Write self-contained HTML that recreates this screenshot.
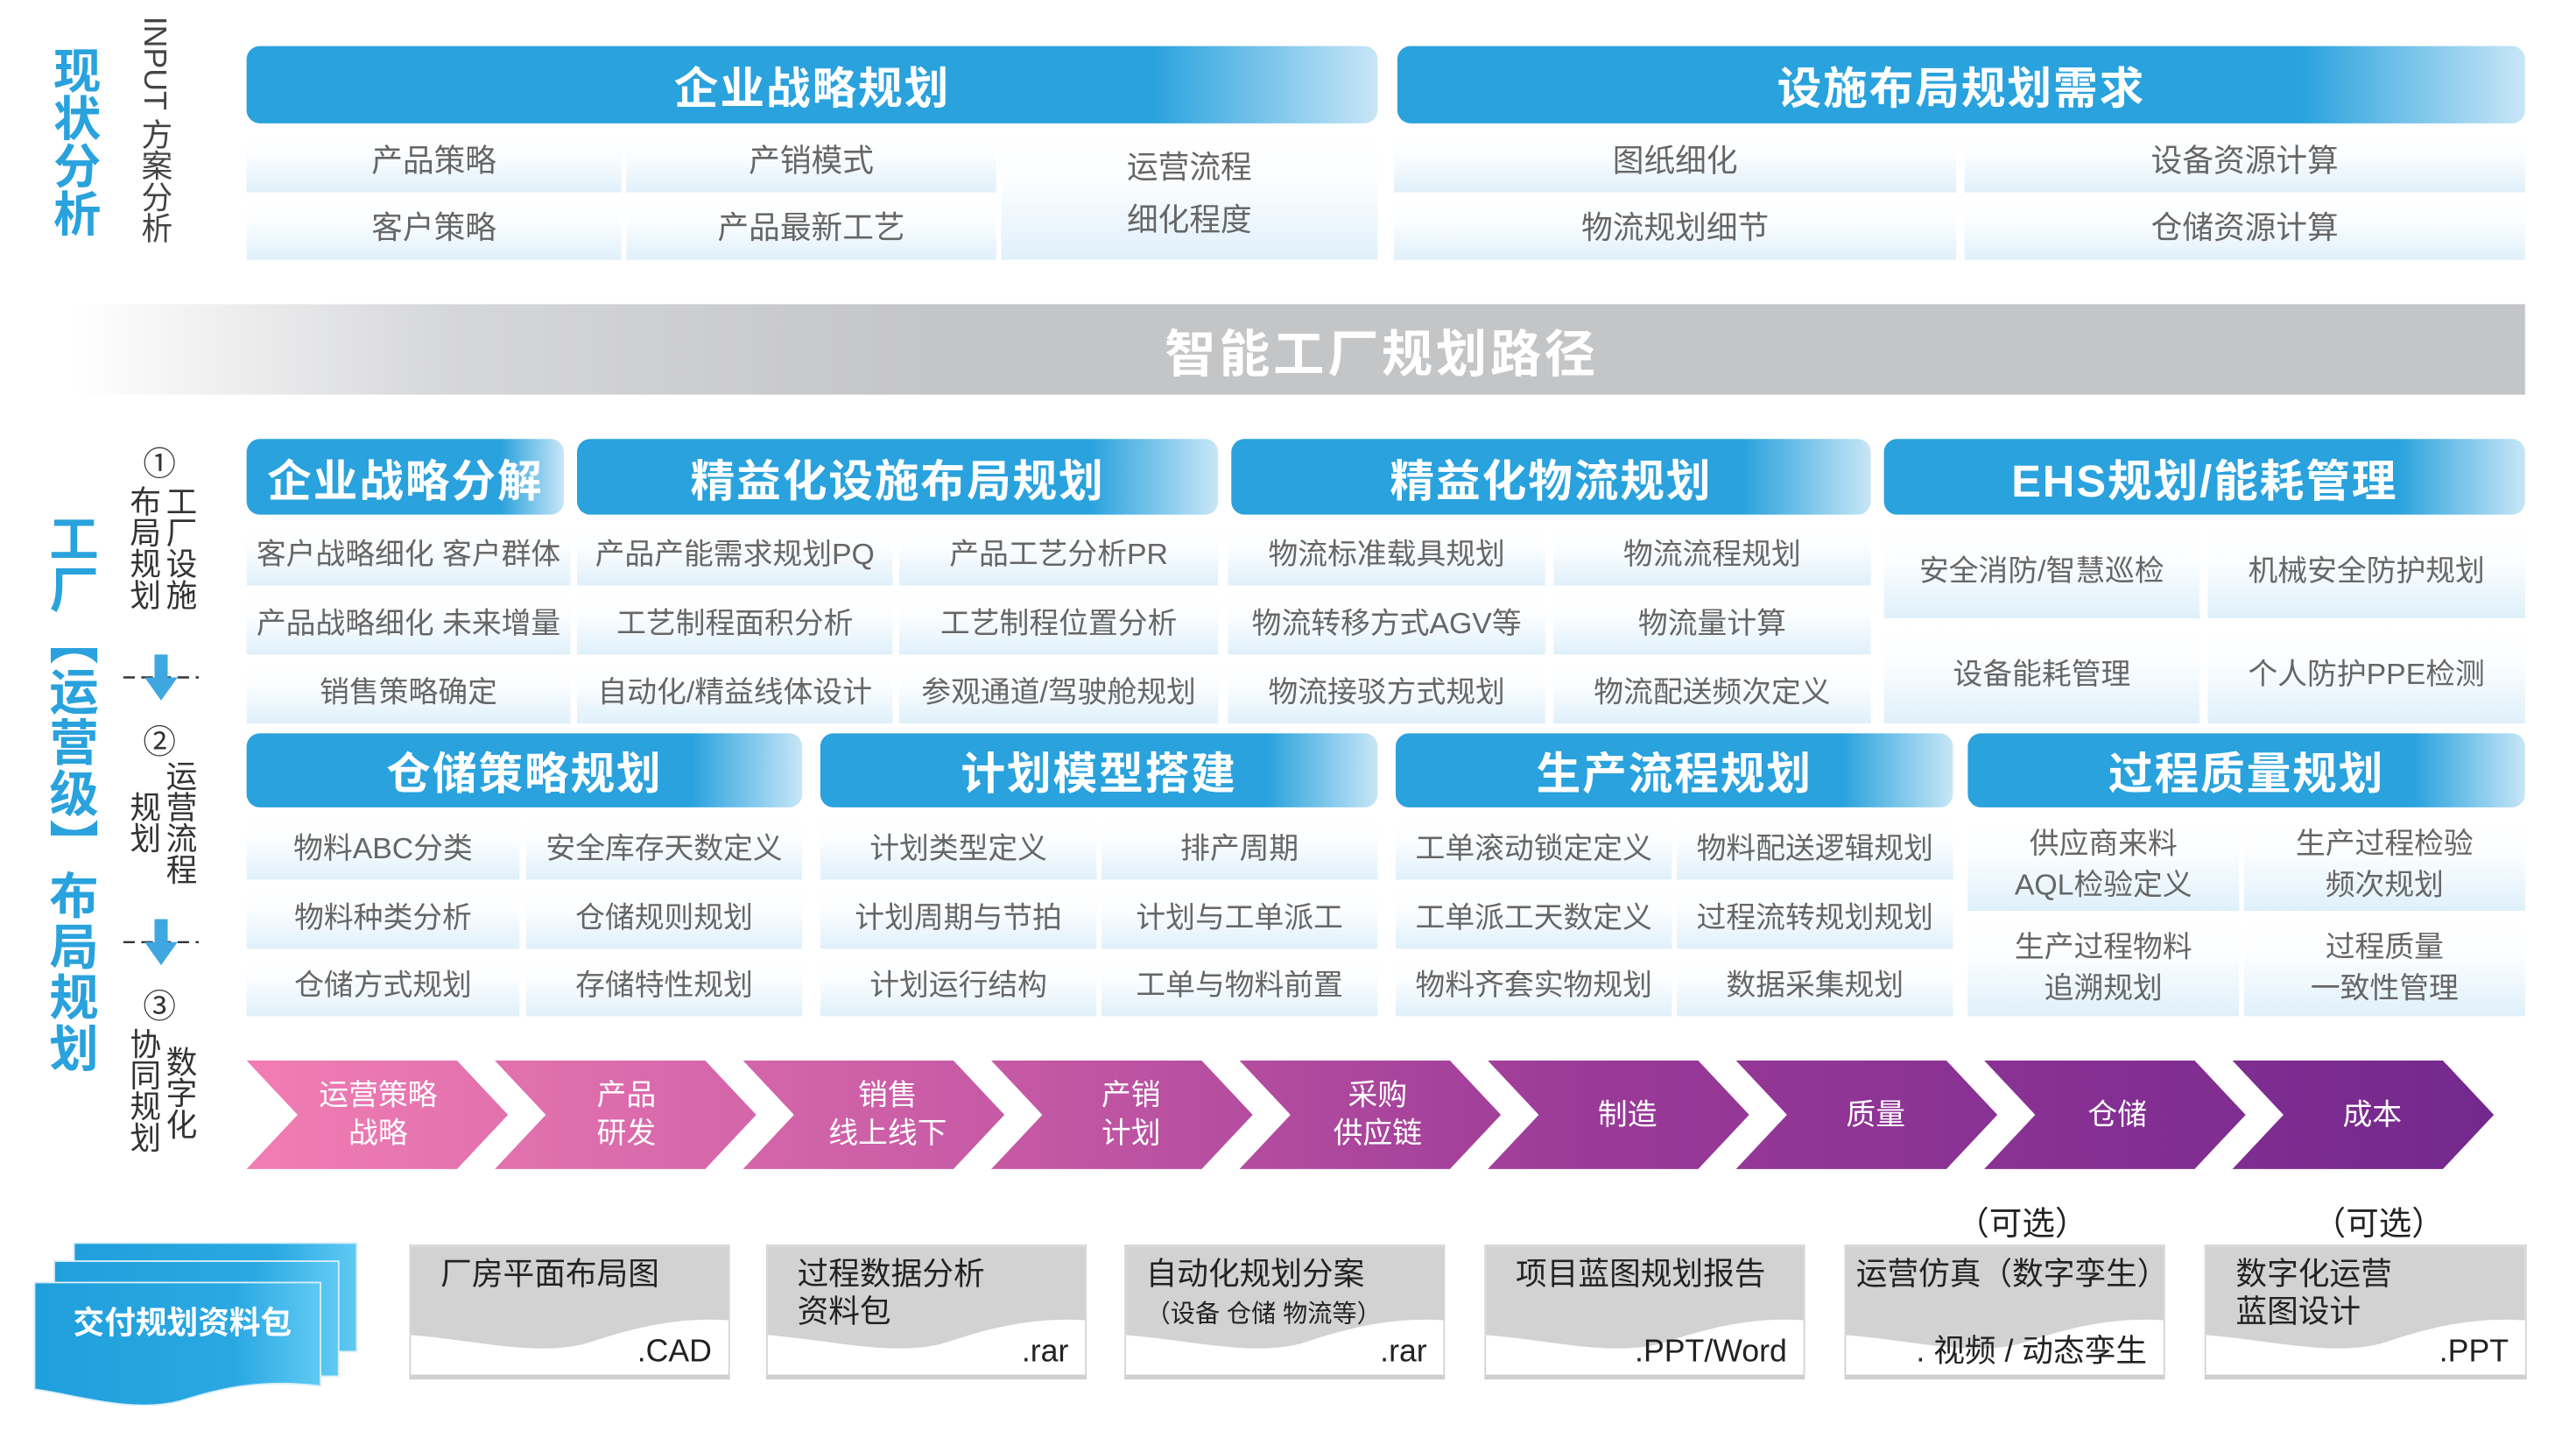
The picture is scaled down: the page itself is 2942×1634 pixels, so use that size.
<!DOCTYPE html>
<html><head><meta charset="utf-8">
<style>
html,body{margin:0;padding:0;background:#fff;}
body{width:2942px;height:1634px;overflow:hidden;position:relative;}
#w{position:absolute;left:0;top:0;width:1567px;height:870px;transform:scale(1.8775);transform-origin:0 0;font-family:"Liberation Sans","Noto Sans CJK SC",sans-serif;}
.a{position:absolute;}
.hb{position:absolute;border-radius:8px;background:linear-gradient(to right,#29a2dd 0%,#29a2dd 80%,#c8e6f7 100%);color:#fff;font-weight:bold;display:flex;align-items:center;justify-content:center;font-size:27px;letter-spacing:1px;}
.c{position:absolute;background:linear-gradient(to bottom,#fff 0%,#fbfdff 40%,#dff0fa 100%);color:#666;display:flex;align-items:center;justify-content:center;text-align:center;font-size:19px;line-height:25px;white-space:nowrap;}
.vt{position:absolute;writing-mode:vertical-rl;}
.vs{position:absolute;writing-mode:vertical-rl;font-size:19px;line-height:20px;color:#333;}
.ch{position:absolute;color:#fff;font-size:18px;line-height:23px;text-align:center;display:flex;align-items:center;justify-content:center;}
.doc{position:absolute;border:1px solid #d5d5d5;border-bottom:3px solid #cfcfcf;background:#fff;overflow:hidden;}
.doc svg{position:absolute;left:0;top:0;}
.dt{position:absolute;left:18px;top:6px;font-size:19px;line-height:23px;color:#222;}
.de{position:absolute;right:10px;bottom:2px;font-size:19px;color:#222;}
</style></head><body><div id="w">

<div class="vt" style="left:27px;top:28px;font-size:29px;font-weight:bold;color:#29a2dd;line-height:34px;">现状分析</div>
<div class="vt" style="left:82px;top:10px;font-size:19px;color:#444;line-height:22px;">INPUT 方案分析</div>

<div class="hb" style="left:150px;top:28px;width:688px;height:47px;">企业战略规划</div>
<div class="hb" style="left:850px;top:28px;width:686px;height:47px;">设施布局规划需求</div>

<div class="c" style="left:150px;top:80px;width:228px;height:37px;">产品策略</div>
<div class="c" style="left:150px;top:120px;width:228px;height:38px;">客户策略</div>
<div class="c" style="left:381px;top:80px;width:225px;height:37px;">产销模式</div>
<div class="c" style="left:381px;top:120px;width:225px;height:38px;">产品最新工艺</div>
<div class="c" style="left:609px;top:80px;width:229px;height:78px;line-height:32px;">运营流程<br>细化程度</div>
<div class="c" style="left:848px;top:80px;width:342px;height:37px;">图纸细化</div>
<div class="c" style="left:848px;top:120px;width:342px;height:38px;">物流规划细节</div>
<div class="c" style="left:1195px;top:80px;width:341px;height:37px;">设备资源计算</div>
<div class="c" style="left:1195px;top:120px;width:341px;height:38px;">仓储资源计算</div>

<div class="a" style="left:45px;top:185px;width:1491px;height:55px;background:linear-gradient(to right,#fff 0%,#d6d7d9 15%,#c4c5c7 35%,#c4c5c7 100%);color:#fff;font-weight:bold;font-size:31px;display:flex;align-items:center;justify-content:center;padding-left:100px;box-sizing:border-box;letter-spacing:2px;">智能工厂规划路径</div>

<div class="vt" style="left:24px;top:312px;font-size:30px;font-weight:bold;color:#29a2dd;line-height:34px;letter-spacing:1px;">工厂【运营级】布局规划</div>

<div class="a" style="left:87px;top:266px;font-size:20px;color:#333;">①</div>
<div class="vs" style="left:98px;top:295px;">工厂设施</div>
<div class="vs" style="left:76px;top:295px;">布局规划</div>
<div class="a" style="left:87px;top:435px;font-size:20px;color:#333;">②</div>
<div class="vs" style="left:98px;top:462px;">运营流程</div>
<div class="vs" style="left:76px;top:481px;">规划</div>
<div class="a" style="left:87px;top:596px;font-size:20px;color:#333;">③</div>
<div class="vs" style="left:98px;top:636px;">数字化</div>
<div class="vs" style="left:76px;top:625px;">协同规划</div>
<svg class="a" style="left:75px;top:398px" width="46" height="30"><line x1="0" y1="14" x2="46" y2="14" stroke="#333" stroke-width="1.3" stroke-dasharray="7 4"/><path d="M19 0 H27 V14 H33 L23 28 L13 14 H19Z" fill="#3ea7e0"/></svg>
<svg class="a" style="left:75px;top:559px" width="46" height="30"><line x1="0" y1="14" x2="46" y2="14" stroke="#333" stroke-width="1.3" stroke-dasharray="7 4"/><path d="M19 0 H27 V14 H33 L23 28 L13 14 H19Z" fill="#3ea7e0"/></svg>

<div class="hb" style="left:150px;top:267px;width:193px;height:46px;font-size:27px;">企业战略分解</div>
<div class="hb" style="left:351px;top:267px;width:390px;height:46px;">精益化设施布局规划</div>
<div class="hb" style="left:749px;top:267px;width:389px;height:46px;">精益化物流规划</div>
<div class="hb" style="left:1146px;top:267px;width:390px;height:46px;">EHS规划/能耗管理</div>

<div class="c" style="left:150px;top:319px;width:197px;height:37px;font-size:18px;">客户战略细化 客户群体</div>
<div class="c" style="left:150px;top:360px;width:197px;height:38px;font-size:18px;">产品战略细化 未来增量</div>
<div class="c" style="left:150px;top:402px;width:197px;height:38px;font-size:18px;">销售策略确定</div>
<div class="c" style="left:351px;top:319px;width:192px;height:37px;font-size:18px;">产品产能需求规划PQ</div>
<div class="c" style="left:351px;top:360px;width:192px;height:38px;font-size:18px;">工艺制程面积分析</div>
<div class="c" style="left:351px;top:402px;width:192px;height:38px;font-size:18px;">自动化/精益线体设计</div>
<div class="c" style="left:547px;top:319px;width:194px;height:37px;font-size:18px;">产品工艺分析PR</div>
<div class="c" style="left:547px;top:360px;width:194px;height:38px;font-size:18px;">工艺制程位置分析</div>
<div class="c" style="left:547px;top:402px;width:194px;height:38px;font-size:18px;">参观通道/驾驶舱规划</div>
<div class="c" style="left:747px;top:319px;width:193px;height:37px;font-size:18px;">物流标准载具规划</div>
<div class="c" style="left:747px;top:360px;width:193px;height:38px;font-size:18px;">物流转移方式AGV等</div>
<div class="c" style="left:747px;top:402px;width:193px;height:38px;font-size:18px;">物流接驳方式规划</div>
<div class="c" style="left:945px;top:319px;width:193px;height:37px;font-size:18px;">物流流程规划</div>
<div class="c" style="left:945px;top:360px;width:193px;height:38px;font-size:18px;">物流量计算</div>
<div class="c" style="left:945px;top:402px;width:193px;height:38px;font-size:18px;">物流配送频次定义</div>
<div class="c" style="left:1146px;top:319px;width:192px;height:57px;font-size:18px;">安全消防/智慧巡检</div>
<div class="c" style="left:1146px;top:380px;width:192px;height:60px;font-size:18px;">设备能耗管理</div>
<div class="c" style="left:1343px;top:319px;width:193px;height:57px;font-size:18px;">机械安全防护规划</div>
<div class="c" style="left:1343px;top:380px;width:193px;height:60px;font-size:18px;">个人防护PPE检测</div>

<div class="hb" style="left:150px;top:446px;width:338px;height:45px;">仓储策略规划</div>
<div class="hb" style="left:499px;top:446px;width:339px;height:45px;">计划模型搭建</div>
<div class="hb" style="left:849px;top:446px;width:339px;height:45px;">生产流程规划</div>
<div class="hb" style="left:1197px;top:446px;width:339px;height:45px;">过程质量规划</div>

<div class="c" style="left:150px;top:497px;width:166px;height:38px;font-size:18px;">物料ABC分类</div>
<div class="c" style="left:150px;top:539px;width:166px;height:38px;font-size:18px;">物料种类分析</div>
<div class="c" style="left:150px;top:581px;width:166px;height:37px;font-size:18px;">仓储方式规划</div>
<div class="c" style="left:320px;top:497px;width:168px;height:38px;font-size:18px;">安全库存天数定义</div>
<div class="c" style="left:320px;top:539px;width:168px;height:38px;font-size:18px;">仓储规则规划</div>
<div class="c" style="left:320px;top:581px;width:168px;height:37px;font-size:18px;">存储特性规划</div>
<div class="c" style="left:499px;top:497px;width:168px;height:38px;font-size:18px;">计划类型定义</div>
<div class="c" style="left:499px;top:539px;width:168px;height:38px;font-size:18px;">计划周期与节拍</div>
<div class="c" style="left:499px;top:581px;width:168px;height:37px;font-size:18px;">计划运行结构</div>
<div class="c" style="left:670px;top:497px;width:168px;height:38px;font-size:18px;">排产周期</div>
<div class="c" style="left:670px;top:539px;width:168px;height:38px;font-size:18px;">计划与工单派工</div>
<div class="c" style="left:670px;top:581px;width:168px;height:37px;font-size:18px;">工单与物料前置</div>
<div class="c" style="left:849px;top:497px;width:168px;height:38px;font-size:18px;">工单滚动锁定定义</div>
<div class="c" style="left:849px;top:539px;width:168px;height:38px;font-size:18px;">工单派工天数定义</div>
<div class="c" style="left:849px;top:581px;width:168px;height:37px;font-size:18px;">物料齐套实物规划</div>
<div class="c" style="left:1020px;top:497px;width:168px;height:38px;font-size:18px;">物料配送逻辑规划</div>
<div class="c" style="left:1020px;top:539px;width:168px;height:38px;font-size:18px;">过程流转规划规划</div>
<div class="c" style="left:1020px;top:581px;width:168px;height:37px;font-size:18px;">数据采集规划</div>
<div class="c" style="left:1197px;top:497px;width:165px;height:57px;font-size:18px;">供应商来料<br>AQL检验定义</div>
<div class="c" style="left:1197px;top:559px;width:165px;height:59px;font-size:18px;">生产过程物料<br>追溯规划</div>
<div class="c" style="left:1365px;top:497px;width:171px;height:57px;font-size:18px;">生产过程检验<br>频次规划</div>
<div class="c" style="left:1365px;top:559px;width:171px;height:59px;font-size:18px;">过程质量<br>一致性管理</div>

<svg class="a" style="left:0;top:640px" width="1560" height="80">
<defs><linearGradient id="g1" x1="150" y1="0" x2="1515" y2="0" gradientUnits="userSpaceOnUse"><stop offset="0" stop-color="#f17db3"/><stop offset="0.35" stop-color="#c458a4"/><stop offset="0.6" stop-color="#9a3a98"/><stop offset="1" stop-color="#74288d"/></linearGradient></defs>
<g fill="url(#g1)">
<path d="M150 5 H278 L309 38 L278 71 H150 L181 38Z"/>
<path d="M301 5 H429 L460 38 L429 71 H301 L332 38Z"/>
<path d="M452 5 H580 L611 38 L580 71 H452 L483 38Z"/>
<path d="M603 5 H731 L762 38 L731 71 H603 L634 38Z"/>
<path d="M754 5 H882 L913 38 L882 71 H754 L785 38Z"/>
<path d="M905 5 H1033 L1064 38 L1033 71 H905 L936 38Z"/>
<path d="M1056 5 H1184 L1215 38 L1184 71 H1056 L1087 38Z"/>
<path d="M1207 5 H1335 L1366 38 L1335 71 H1207 L1238 38Z"/>
<path d="M1358 5 H1486 L1517 38 L1486 71 H1358 L1389 38Z"/>
</g></svg>
<div class="ch" style="left:180px;top:645px;width:100px;height:66px;">运营策略<br>战略</div>
<div class="ch" style="left:331px;top:645px;width:100px;height:66px;">产品<br>研发</div>
<div class="ch" style="left:485px;top:645px;width:110px;height:66px;">销售<br>线上线下</div>
<div class="ch" style="left:638px;top:645px;width:100px;height:66px;">产销<br>计划</div>
<div class="ch" style="left:788px;top:645px;width:100px;height:66px;">采购<br>供应链</div>
<div class="ch" style="left:940px;top:645px;width:100px;height:66px;">制造</div>
<div class="ch" style="left:1091px;top:645px;width:100px;height:66px;">质量</div>
<div class="ch" style="left:1238px;top:645px;width:100px;height:66px;">仓储</div>
<div class="ch" style="left:1393px;top:645px;width:100px;height:66px;">成本</div>

<svg class="a" style="left:15px;top:750px" width="210" height="105">
<defs><linearGradient id="g2" x1="0" y1="0" x2="1" y2="0"><stop offset="0" stop-color="#1f9fdc"/><stop offset="0.7" stop-color="#2aa8e2"/><stop offset="1" stop-color="#5fcaf3"/></linearGradient></defs>
<rect x="30" y="6" width="172" height="66" fill="url(#g2)" stroke="#d8eef9" stroke-width="1"/>
<rect x="18" y="17" width="173" height="70" fill="url(#g2)" stroke="#d8eef9" stroke-width="1"/>
<path d="M6 30 H180 V93 C140 88 115 96 95 102 C65 110 30 98 6 95 Z" fill="url(#g2)" stroke="#d8eef9" stroke-width="1"/>
</svg>
<div class="a" style="left:22px;top:790px;width:178px;text-align:center;color:#fff;font-weight:bold;font-size:19px;">交付规划资料包</div>

<div class="a" style="left:1190px;top:728px;font-size:20px;color:#222;">（可选）</div>
<div class="a" style="left:1407px;top:728px;font-size:20px;color:#222;">（可选）</div>

<div class="doc" style="left:249px;top:757px;width:193px;height:78px;"><svg width="194" height="80" viewBox="0 0 194 80" preserveAspectRatio="none"><path d="M0 0 H194 V45 C165 43 140 48 110 58 C80 68 40 57 0 54Z" fill="#d2d2d2"/></svg><div class="dt">厂房平面布局图</div><div class="de">.CAD</div></div>
<div class="doc" style="left:466px;top:757px;width:193px;height:78px;"><svg width="194" height="80" viewBox="0 0 194 80" preserveAspectRatio="none"><path d="M0 0 H194 V45 C165 43 140 48 110 58 C80 68 40 57 0 54Z" fill="#d2d2d2"/></svg><div class="dt">过程数据分析<br>资料包</div><div class="de">.rar</div></div>
<div class="doc" style="left:684px;top:757px;width:193px;height:78px;"><svg width="194" height="80" viewBox="0 0 194 80" preserveAspectRatio="none"><path d="M0 0 H194 V45 C165 43 140 48 110 58 C80 68 40 57 0 54Z" fill="#d2d2d2"/></svg><div class="dt" style="left:12px;">自动化规划分案<br><span style="font-size:15px;line-height:18px;">（设备 仓储 物流等）</span></div><div class="de">.rar</div></div>
<div class="doc" style="left:903px;top:757px;width:193px;height:78px;"><svg width="194" height="80" viewBox="0 0 194 80" preserveAspectRatio="none"><path d="M0 0 H194 V45 C165 43 140 48 110 58 C80 68 40 57 0 54Z" fill="#d2d2d2"/></svg><div class="dt">项目蓝图规划报告</div><div class="de">.PPT/Word</div></div>
<div class="doc" style="left:1122px;top:757px;width:193px;height:78px;"><svg width="194" height="80" viewBox="0 0 194 80" preserveAspectRatio="none"><path d="M0 0 H194 V45 C165 43 140 48 110 58 C80 68 40 57 0 54Z" fill="#d2d2d2"/></svg><div class="dt" style="left:6px;">运营仿真（数字孪生）</div><div class="de">. 视频 / 动态孪生</div></div>
<div class="doc" style="left:1341px;top:757px;width:194px;height:78px;"><svg width="194" height="80" viewBox="0 0 194 80" preserveAspectRatio="none"><path d="M0 0 H194 V45 C165 43 140 48 110 58 C80 68 40 57 0 54Z" fill="#d2d2d2"/></svg><div class="dt">数字化运营<br>蓝图设计</div><div class="de">.PPT</div></div>

</div></body></html>
